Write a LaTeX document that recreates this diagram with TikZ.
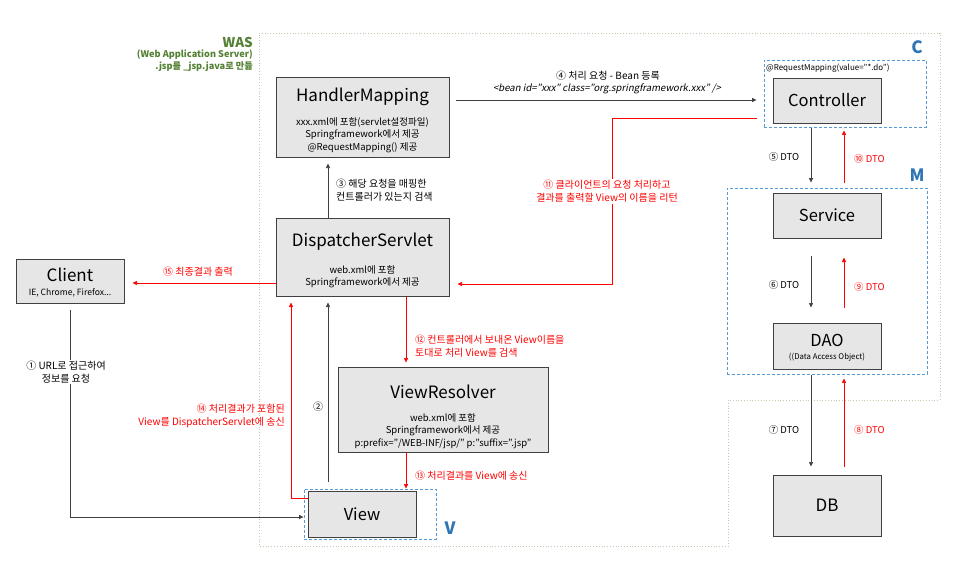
\documentclass[tikz,border=0pt]{standalone}
\usepackage{fontspec}
\setmainfont{Noto Sans CJK KR}[AutoFakeSlant=0.2]
\usetikzlibrary{arrows.meta,calc}
\definecolor{boxfill}{HTML}{E7E6E6}
\definecolor{boxline}{HTML}{404040}
\definecolor{arrowgray}{HTML}{404040}
\definecolor{redc}{HTML}{FF0000}
\definecolor{dashblue}{HTML}{5B9BD5}
\definecolor{letterblue}{HTML}{2E75B6}
\definecolor{wasgreen}{HTML}{548235}
\definecolor{wasdot}{HTML}{C8C8B0}
\begin{document}
\begin{tikzpicture}[x=1pt,y=-1pt,
  box/.style={draw=boxline,fill=boxfill,line width=1pt,inner sep=0pt},
  dbox/.style={draw=dashblue,dash pattern=on 3pt off 2pt,line width=0.9pt,inner sep=0pt},
  ttl/.style={font=\fontsize{17}{20}\selectfont,inner sep=0pt},
  ttls/.style={font=\fontsize{16.5}{19}\selectfont,inner sep=0pt},
  sub/.style={font=\fontsize{9.5}{12.5}\selectfont,align=center,inner sep=0pt},
  lbl/.style={font=\fontsize{10}{13}\selectfont,inner sep=1pt},
  rlbl/.style={lbl,text=redc},
  dto/.style={font=\fontsize{9.5}{11}\selectfont,inner sep=0pt},
  blk/.style={draw=arrowgray,line width=0.7pt,-{Triangle[length=4.5pt,width=4pt]}},
  rd/.style={draw=redc,line width=0.6pt,-{Triangle[length=4.5pt,width=4pt]}},
  letter/.style={font=\fontsize{17}{20}\selectfont\bfseries,text=letterblue,inner sep=0pt}]
\useasboundingbox[fill=white] (0,0) rectangle (962,579);

% WAS boundary
\draw[wasdot,dotted,line width=0.8pt] (259,33) -- (940,33) -- (940,400) -- (728,400) -- (728,546) -- (259,546) -- cycle;
\node[anchor=east,text=wasgreen,font=\fontsize{13.5}{15}\selectfont\bfseries,inner sep=0pt] (wasT) at (253,42) {WAS};
\node[anchor=east,text=wasgreen,font=\fontsize{9.2}{12}\selectfont\bfseries,align=right,inner sep=0pt] (wasS) at (253,61) {(Web Application Server)\\.jsp를 \_jsp.java로 만듦};

% dashed group boxes
\node[dbox,minimum width=162pt,minimum height=67pt] (cbox) at (845,93.5) {};
\node[dbox,minimum width=200pt,minimum height=186pt] (mbox) at (827,281) {};
\node[dbox,minimum width=132pt,minimum height=50pt] (vbox) at (370,514) {};
\node[letter] (cL) at (917,47) {C};
\node[letter] (mL) at (917,175) {M};
\node[letter] (vL) at (450,528) {V};
\node[anchor=west,font=\fontsize{8}{9}\selectfont,inner sep=0pt] (rqm) at (766,68) {@RequestMapping(value="*.do")};

% boxes
\node[box,minimum width=173pt,minimum height=80pt] (hm) at (362.5,117) {};
\node[ttl] (hmT) at (362.5,97) {HandlerMapping};
\node[sub] (hmS) at (362.5,135) {xxx.xml에 포함(servlet설정파일)\\Springframework에서 제공\\@RequestMapping() 제공};

\node[box,minimum width=173pt,minimum height=78pt] (disp) at (362.5,257) {};
\node[ttl] (dispT) at (362.5,242) {DispatcherServlet};
\node[sub] (dispS) at (362.5,276.5) {web.xml에 포함\\Springframework에서 제공};

\node[box,minimum width=108pt,minimum height=44pt] (client) at (70,281) {};
\node[ttl] (clientT) at (70,275) {Client};
\node[font=\fontsize{8.6}{10}\selectfont,inner sep=0pt] (clientS) at (70,293) {IE, Chrome, Firefox...};

\node[box,minimum width=210pt,minimum height=85pt] (vr) at (443,409.5) {};
\node[ttl] (vrT) at (443,392) {ViewResolver};
\node[sub] (vrS) at (443,431) {web.xml에 포함\\Springframework에서 제공\\p:prefix="/WEB-INF/jsp/" p:"suffix=".jsp"};

\node[box,minimum width=108pt,minimum height=46pt] (view) at (362,514) {};
\node[ttls] (viewT) at (362,514) {View};

\node[box,minimum width=108pt,minimum height=45pt] (ctrl) at (827,100.5) {};
\node[ttls] (ctrlT) at (827,100.5) {Controller};

\node[box,minimum width=108pt,minimum height=45pt] (svc) at (827,215.5) {};
\node[ttls] (svcT) at (827,215.5) {Service};

\node[box,minimum width=108pt,minimum height=46pt] (dao) at (827,346) {};
\node[ttls] (daoT) at (827,340) {DAO};
\node[font=\fontsize{7.8}{9}\selectfont,inner sep=0pt] (daoS) at (827,357) {((Data Access Object)};

\node[box,minimum width=108pt,minimum height=61pt] (db) at (827,505.5) {};
\node[ttl] (dbT) at (827,505.5) {DB};

% helper coordinates
\coordinate (kb) at (811,0);
\coordinate (kr) at (844,0);
\coordinate (k23) at (328,0);
\coordinate (k14) at (291,0);
\coordinate (k12) at (406,0);
\coordinate (y4) at (0,100);
\coordinate (y11) at (0,118);
\coordinate (k11) at (612,284);
\coordinate (y15) at (0,283);
\coordinate (y1) at (0,517);
\coordinate (y14) at (0,498);

% 1 client -> view
\draw[blk,shorten <=6pt] (client.south) |- (vbox.west |- y1);
\node[lbl,fill=white,align=center] (l1) at (66,372) {① URL로 접근하여\\정보를 요청};

% 2 view -> dispatcher
\draw[blk,shorten <=9pt,shorten >=6pt] (view.north -| k23) -- (disp.south -| k23);
\node[lbl] (l2) at (318,407) {②};

% 3 dispatcher -> handler mapping
\draw[blk,shorten >=6pt] (disp.north -| k23) -- (hm.south -| k23);
\node[lbl,anchor=west,align=left] (l3) at (335,190.5) {③ 해당 요청을 매핑한\\컨트롤러가 있는지 검색};

% 4 handler mapping -> controller
\draw[blk,shorten <=6pt,shorten >=7pt] (hm.east |- y4) -- (cbox.west |- y4);
\node[lbl] (l4a) at (608,76) {④ 처리 요청 - Bean 등록};
\node[lbl,font=\fontsize{9.6}{11}\selectfont\itshape] (l4b) at (607,89) {<bean id="xxx" class="org.springframework.xxx" />};

% 5..10 DTO
\draw[blk,shorten <=1pt,shorten >=5pt] (cbox.south -| kb) -- (mbox.north -| kb);
\node[dto] (l5) at (784,157) {⑤ DTO};
\draw[blk,shorten <=17pt,shorten >=15pt] (svc.south -| kb) -- (dao.north -| kb);
\node[dto] (l6) at (784,285) {⑥ DTO};
\draw[blk,shorten <=1pt,shorten >=8pt] (mbox.south -| kb) -- (db.north -| kb);
\node[dto] (l7) at (784,430) {⑦ DTO};
\draw[rd,shorten <=8pt,shorten >=4pt] (db.north -| kr) -- (mbox.south -| kr);
\node[dto,anchor=west,text=redc] (l8) at (854,430) {⑧ DTO};
\draw[rd,shorten <=15pt,shorten >=19pt] (dao.north -| kr) -- (svc.south -| kr);
\node[dto,anchor=west,text=redc] (l9) at (854,287) {⑨ DTO};
\draw[rd,shorten <=5pt,shorten >=3pt] (mbox.north -| kr) -- (cbox.south -| kr);
\node[dto,anchor=west,text=redc] (l10) at (854,159) {⑩ DTO};

% 11 controller -> dispatcher
\draw[rd,shorten <=7pt,shorten >=8pt] (cbox.west |- y11) -| (k11) -- (disp.east |- k11);
\node[rlbl,fill=white,align=center] (l11) at (607,191.5) {⑪ 클라이언트의 요청 처리하고\\결과를 출력할 View의 이름을 리턴};

% 12 dispatcher -> view resolver
\draw[rd,shorten >=4pt] (disp.south -| k12) -- (vr.north -| k12);
\node[rlbl,anchor=west,align=left] (l12) at (414,346.5) {⑫ 컨트롤러에서 보내온 View이름을\\토대로 처리 View를 검색};

% 13 view resolver -> view
\draw[rd] (vr.south -| k12) -- (vbox.north -| k12);
\node[rlbl,anchor=west] (l13) at (414,476) {⑬ 처리결과를 View에 송신};

% 14 view -> dispatcher
\draw[rd,shorten >=6pt] (view.west |- y14) -| (disp.south -| k14);
\node[rlbl,anchor=east,align=right] (l14) at (286,415.5) {⑭ 처리결과가 포함된\\View를 DispatcherServlet에 송신};

% 15 dispatcher -> client
\draw[rd,shorten >=8pt] (disp.west |- y15) -- (client.east |- y15);
\node[rlbl] (l15) at (198,272) {⑮ 최종결과 출력};
\end{tikzpicture}
\end{document}
